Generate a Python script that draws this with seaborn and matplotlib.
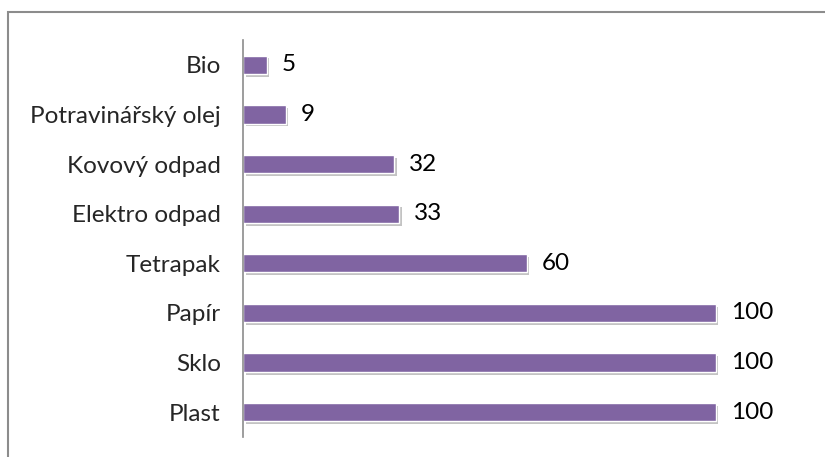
import matplotlib
matplotlib.use("Agg")
import matplotlib.pyplot as plt
import matplotlib.patheffects as pe
from matplotlib.patches import Rectangle
import seaborn as sns
import pandas as pd

categories = ["Bio", "Potravinářský olej", "Kovový odpad", "Elektro odpad",
              "Tetrapak", "Papír", "Sklo", "Plast"]
values = [5, 9, 32, 33, 60, 100, 100, 100]

df = pd.DataFrame({"cat": categories, "val": values})

sns.set_style("white")
plt.rcParams['font.family'] = ['Lato', 'DejaVu Sans']

W, H = 825, 457
fig = plt.figure(figsize=(W / 100, H / 100), dpi=100)
ax = fig.add_axes([243 / W, 1 - 437 / H, (810 - 243) / W, (437 - 40) / H])

sns.barplot(data=df, y="cat", x="val", orient="h", color="#8064A2",
            saturation=1, width=0.37, ax=ax, edgecolor="white", linewidth=1)

for p in ax.patches:
    p.set_path_effects([pe.SimplePatchShadow(offset=(2, -2), shadow_rgbFace="#555555", alpha=0.35),
                        pe.Normal()])

for p, v in zip(ax.patches, values):
    ax.text(p.get_width() + 3.2, p.get_y() + p.get_height() / 2, str(v),
            va="center", ha="left", fontsize=17.5, color="black")

ax.set_xlim(0, 120)
ax.set_xlabel("")
ax.set_ylabel("")
ax.set_xticks([])
ax.tick_params(axis="y", length=0, pad=16, labelsize=17.5)
for s in ["top", "right", "bottom"]:
    ax.spines[s].set_visible(False)
ax.spines["left"].set_color("#8c8c8c")
ax.spines["left"].set_linewidth(1.2)

fig.patches.append(Rectangle((8 / W, -0.1), 1.2, 1 - 12 / H + 0.1,
                             transform=fig.transFigure, fill=False,
                             edgecolor="#8c8c8c", linewidth=1.5))

fig.savefig("out.png", dpi=100)
